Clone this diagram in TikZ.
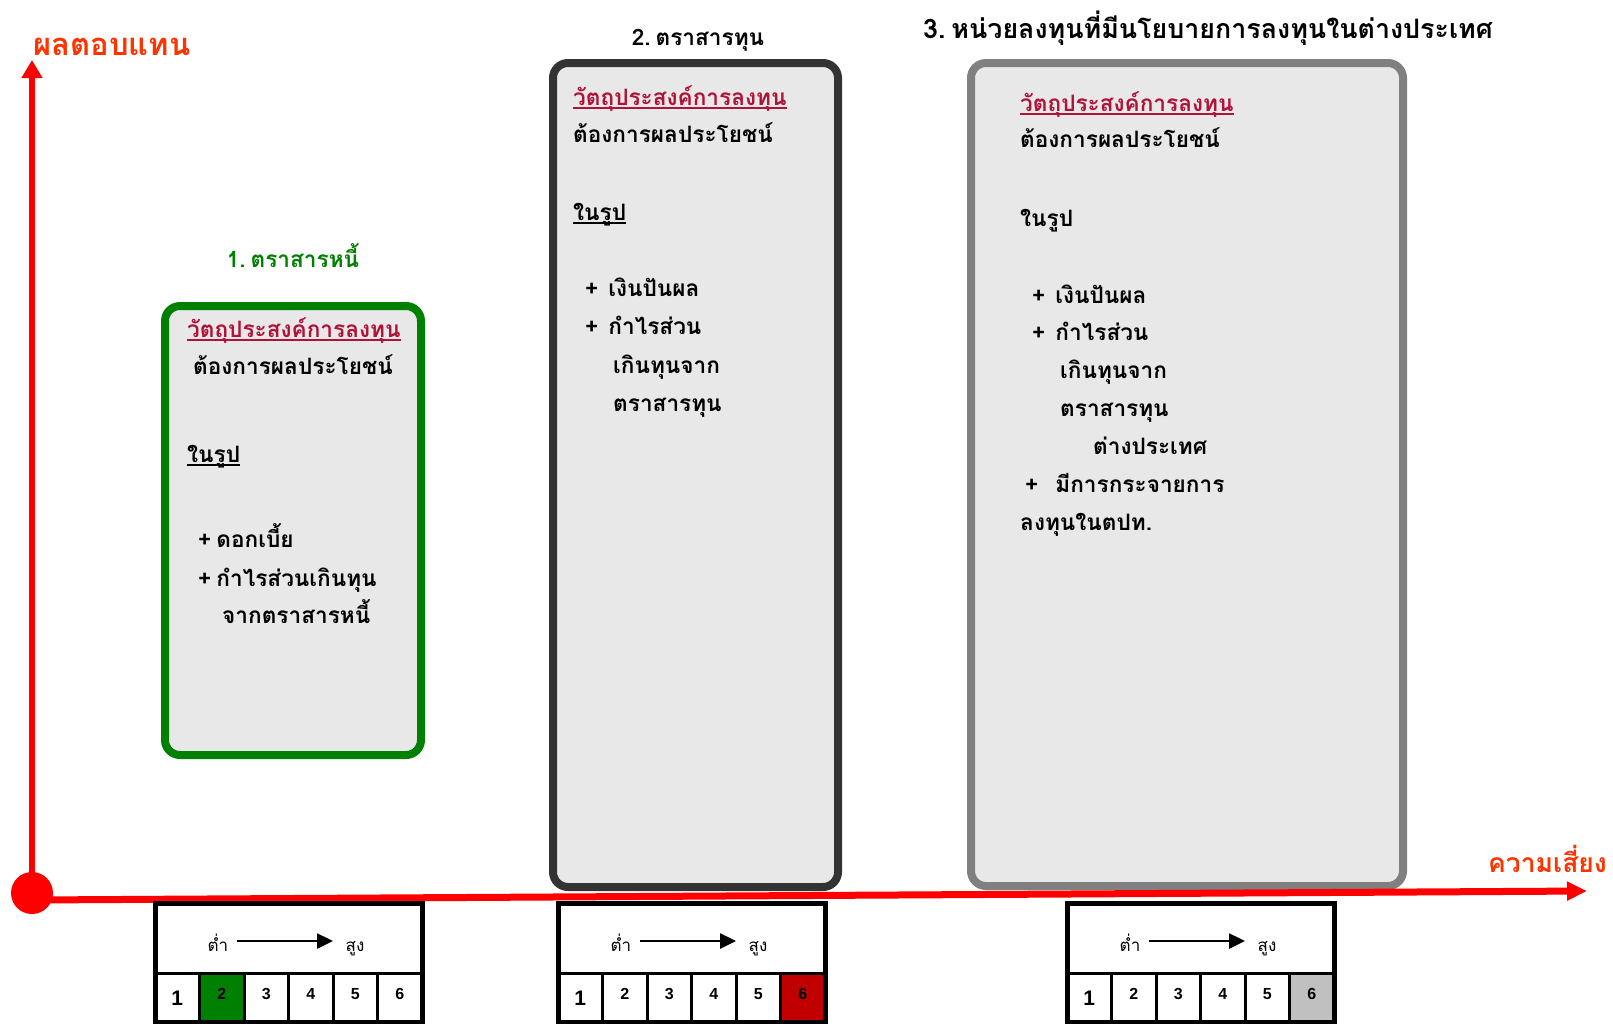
\documentclass[tikz,border=0pt]{standalone}
\usepackage{fontspec}
\setmainfont[Script=Thai]{Loma}
\newfontfamily\numfont{Liberation Sans}
\usetikzlibrary{arrows.meta}
\definecolor{axisred}{RGB}{255,0,0}
\definecolor{axistext}{RGB}{255,51,0}
\definecolor{aimred}{RGB}{176,18,56}
\definecolor{bondgreen}{RGB}{0,128,0}
\definecolor{boxgray}{RGB}{232,232,232}
\definecolor{hotred}{RGB}{192,0,0}
\definecolor{hotgray}{RGB}{192,192,192}
\newcommand{\Uline}[1]{\setbox0=\hbox{#1}\rlap{\rule[-3.5pt]{\wd0}{1.6pt}}\box0}
\newcommand{\Aim}[1]{{\color{aimred}\Uline{#1}}}
% risk scale: name, left x, marked cell, its colour
\newcommand{\RiskBar}[4]{%
  \begin{scope}[shift={(#2,903)}]
    \fill[#4] ({(#3-1)*44.5},70) rectangle ++(44.5,49);
    \foreach \k in {1,...,5} \draw[line width=3pt] ({\k*44.5},70) -- ++(0,49);
    \draw[line width=3pt] (0,70) -- (267,70);
    \draw[line width=5pt] (0,0) rectangle (267,119);
    \node[risk] (#1-lo) at (63,48) {ต่ำ};
    \node[risk] (#1-hi) at (200,48) {สูง};
    \coordinate (#1-a) at (82,38);
    \coordinate (#1-b) at (178,38);
    \draw[line width=2.5pt,-{Triangle[length=16pt,width=15pt]}] (#1-a) -- (#1-b);
    \node[cellnum,font=\numfont\bfseries\fontsize{21}{21}\selectfont] (#1-1) at (22.25,102) {1};
    \foreach \k in {2,...,6}
      \node[cellnum] (#1-\k) at ({(\k-0.5)*44.5},96) {\k};
  \end{scope}}

\begin{document}
\begin{tikzpicture}[x=1pt,y=-1pt,
    body/.style={anchor=base west,inner sep=0pt,font=\bfseries\fontsize{22.6}{26}\selectfont},
    title/.style={anchor=base,inner sep=0pt,font=\bfseries\fontsize{22.6}{27}\selectfont},
    axislabel/.style={anchor=base west,inner sep=0pt,text=axistext,font=\bfseries\fontsize{27}{30}\selectfont},
    fund/.style={rounded corners=15pt,line width=8pt,fill=boxgray},
    risk/.style={anchor=base,inner sep=0pt,font=\fontsize{17}{20}\selectfont},
    cellnum/.style={anchor=base,inner sep=0pt,font=\numfont\bfseries\fontsize{16}{16}\selectfont}]
  \useasboundingbox (0,0) rectangle (1613,1023);
  % fund boxes
  \path[draw=bondgreen,fund] (165,306) rectangle (421,755);
  \path[draw=black!80,fund] (553,63) rectangle (838,887);
  \path[draw=black!50,fund] (971,63) rectangle (1403,886);
  \node[title,text=bondgreen] (t1) at (293,267) {1.\hspace{5pt}ตราสารหนี้};
  \node[title] (t2) at (698,45) {2.\hspace{5pt}ตราสารทุน};
  \node[title,font=\bfseries\fontsize{26.8}{30}\selectfont] (t3) at (1208,38)
    {3.\hspace{6pt}หน่วยลงทุนที่มีนโยบายการลงทุนในต่างประเทศ};
  % box 1
  \node[body] (a1) at (187,337) {\Aim{วัตถุประสงค์การลงทุน}};
  \node[body] (a2) at (193,374) {ต้องการผลประโยชน์};
  \node[body] (a3) at (187,462) {\Uline{ในรูป}};
  \node[body] (a4) at (198,547) {+\hspace{5pt}ดอกเบี้ย};
  \node[body] (a5) at (198,586) {+\hspace{5pt}กำไรส่วนเกินทุน};
  \node[body] (a6) at (222,623) {จากตราสารหนี้};
  % box 2
  \node[body] (b1) at (573,105) {\Aim{วัตถุประสงค์การลงทุน}};
  \node[body] (b2) at (573,142) {ต้องการผลประโยชน์};
  \node[body] (b3) at (573,220) {\Uline{ในรูป}};
  \node[body] (b4) at (585,296) {+\hspace{10pt}เงินปันผล};
  \node[body] (b5) at (585,334) {+\hspace{10pt}กำไรส่วน};
  \node[body] (b6) at (613,373) {เกินทุนจาก};
  \node[body] (b7) at (613,411) {ตราสารทุน};
  % box 3
  \node[body] (c1) at (1020,111) {\Aim{วัตถุประสงค์การลงทุน}};
  \node[body] (c2) at (1020,147) {ต้องการผลประโยชน์};
  \node[body] (c3) at (1020,226) {ในรูป};
  \node[body] (c4) at (1032,303) {+\hspace{10pt}เงินปันผล};
  \node[body] (c5) at (1032,340) {+\hspace{10pt}กำไรส่วน};
  \node[body] (c6) at (1060,378) {เกินทุนจาก};
  \node[body] (c7) at (1060,416) {ตราสารทุน};
  \node[body] (c8) at (1093,454) {ต่างประเทศ};
  \node[body] (c9) at (1025,492) {+\hspace{17pt}มีการกระจายการ};
  \node[body] (c10) at (1020,530) {ลงทุนในตปท.};
  % axes
  \path (32,893) coordinate (O) (32,60) coordinate (ytop)
        (32,900) coordinate (xstart) (1587,891) coordinate (xend);
  \draw[axisred,line width=6pt,-{Triangle[length=18pt,width=20pt]}] (O) -- (ytop);
  \draw[axisred,line width=7pt,-{Triangle[length=20pt,width=18pt]}] (xstart) -- (xend);
  \fill[axisred] (O) circle (21);
  \node[axislabel,font=\bfseries\fontsize{31}{34}\selectfont] (ylab) at (33,55) {ผลตอบแทน};
  \node[axislabel,font=\bfseries\fontsize{26.5}{30}\selectfont] (xlab) at (1488,872) {ความเสี่ยง};
  % risk scales
  \RiskBar{r1}{155}{2}{bondgreen}
  \RiskBar{r2}{558}{6}{hotred}
  \RiskBar{r3}{1067}{6}{hotgray}
\end{tikzpicture}
\end{document}
